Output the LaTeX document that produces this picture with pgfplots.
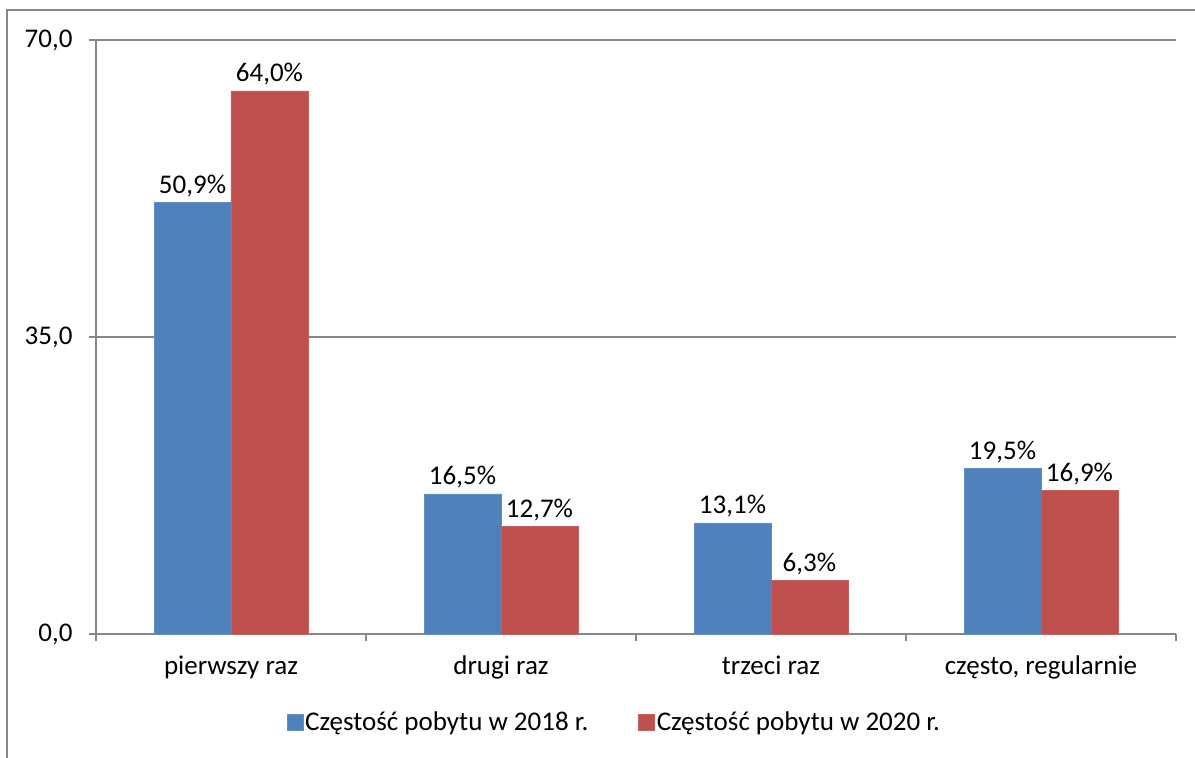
\documentclass[border=0pt]{standalone}
\usepackage{pgfplots}
\pgfplotsset{compat=1.18}
\usepackage{fontspec}
\setmainfont{Carlito}
\definecolor{cblue}{HTML}{4F81BD}
\definecolor{cred}{HTML}{C0504D}
\definecolor{cgray}{HTML}{868686}
\begin{document}
\begin{tikzpicture}[x=1pt,y=1pt]
\useasboundingbox (0,0) rectangle (1195,758);
\draw[cgray, line width=1.5pt] (7,0) -- (7,748) -- (1195,748);
\begin{axis}[
  at={(96pt,124pt)}, anchor=south west,
  scale only axis, width=1080pt, height=594pt,
  ybar, bar width=0.285,
  xmin=-0.5, xmax=3.5, ymin=0, ymax=70,
  axis x line*=bottom, axis y line*=left,
  axis line style={cgray, line width=1.2pt},
  xtick={0,1,2,3},
  xticklabels={pierwszy raz, drugi raz, trzeci raz, {często, regularnie}},
  major x tick style={draw=none},
  minor xtick={-0.5,0.5,1.5,2.5,3.5},
  minor x tick style={cgray, line width=1.2pt},
  minor tick length=7pt,
  ytick={0,35,70},
  ytick style={cgray, line width=1.2pt},
  tick align=outside, major tick length=7pt,
  ymajorgrids, grid style={cgray, line width=1.2pt},
  yticklabel={\pgfmathprintnumber[fixed, fixed zerofill, precision=1, use comma]{\tick}},
  /pgf/number format/assume math mode=true,
  tick label style={font=\fontsize{27}{32}\selectfont, text=black},
  xticklabel style={yshift=-11pt},
  yticklabel style={xshift=-13pt},
  nodes near coords={\pgfmathprintnumber[fixed, fixed zerofill, precision=1, use comma, assume math mode=true]{\pgfplotspointmeta}\%},
  every node near coord/.append style={font=\fontsize{27}{32}\selectfont, text=black, yshift=2pt},
  legend style={at={(0.48,-0.148)}, anchor=center, draw=none, legend columns=2,
    font=\fontsize{27}{32}\selectfont, column sep=0pt,
    /tikz/every even column/.append style={column sep=48pt}},
  legend image code/.code={\fill[#1] (0pt,-8pt) rectangle (16pt,8pt);},
  clip=false,
]
\addplot[fill=cblue, draw=cblue!90!white, bar shift=-0.1425] coordinates {(0,50.9) (1,16.5) (2,13.1) (3,19.5)};
\addplot[fill=cred, draw=cred!90!white, bar shift=0.1425] coordinates {(0,64.0) (1,12.7) (2,6.3) (3,16.9)};
\legend{Częstość pobytu w 2018 r., Częstość pobytu w 2020 r.}
\end{axis}
\end{tikzpicture}
\end{document}
